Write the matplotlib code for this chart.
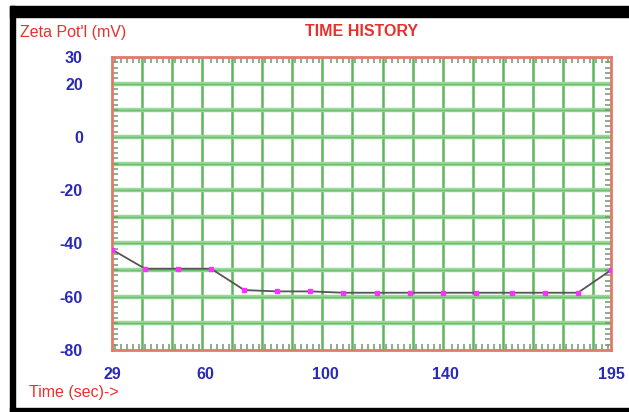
import matplotlib
matplotlib.use("Agg")
import matplotlib.pyplot as plt
from matplotlib.ticker import MultipleLocator, FixedLocator
from matplotlib.patches import Rectangle
import numpy as np

time_sec = [29, 40, 51, 62, 73, 84, 95, 106, 117, 128, 139, 150, 162, 173, 184, 195]
zeta_mv = [-42.3, -49.5, -49.5, -49.5, -57.5, -58, -58, -58.5, -58.5, -58.5, -58.5, -58.5, -58.5, -58.5, -58.5, -50]
x_ticks = [29, 60, 100, 140, 195]
y_ticks = [30, 20, 0, -20, -40, -60, -80]
title = "TIME HISTORY"
y_title = "Zeta Pot'l (mV)"
x_title = "Time (sec)->"

plt.rcParams['font.family'] = ['Liberation Sans', 'DejaVu Sans']
plt.rcParams['axes.unicode_minus'] = False

W, H = 629, 412
fig = plt.figure(figsize=(W / 100, H / 100), dpi=100)
fig.patch.set_facecolor('white')

# black frame (top, left, bottom)
def px_rect(x0, y0, x1, y1):
    return Rectangle((x0 / W, 1 - y1 / H), (x1 - x0) / W, (y1 - y0) / H,
                     transform=fig.transFigure, color='black', zorder=0)
fig.patches.append(px_rect(10, 6, 629, 17))
fig.patches.append(px_rect(10, 6, 15, 412))
fig.patches.append(px_rect(10, 408, 629, 412))

left, right, top, bottom = 112, 611, 57, 350
ax = fig.add_axes([left / W, 1 - bottom / H, (right - left) / W, (bottom - top) / H])
ax.set_xlim(29, 195)
ax.set_ylim(-80, 30)

# grid
for gx in np.arange(39, 195, 10):
    ax.axvline(gx, color='#5cb65c', lw=1.8, zorder=1)
for gy in np.arange(-70, 30, 10):
    ax.axhline(gy, color='#9ad79a', lw=3.2, zorder=1)
    ax.axhline(gy, color='#6cc06c', lw=1.0, zorder=1)

ax.plot(time_sec, zeta_mv, color='#555555', lw=1.3, zorder=3)
ax.plot(time_sec, zeta_mv, linestyle='none', marker='s', ms=3.5,
        color='#ff30ff', mec='#ff30ff', zorder=4)

for s in ax.spines.values():
    s.set_color('#e07a6a')
    s.set_linewidth(2)

ax.xaxis.set_major_locator(FixedLocator(x_ticks))
ax.yaxis.set_major_locator(FixedLocator(y_ticks))
ax.xaxis.set_minor_locator(MultipleLocator(2))
ax.yaxis.set_minor_locator(MultipleLocator(2))
ax.tick_params(which='major', length=0, labelsize=11.5, labelcolor='#2a2ab4', width=0)
ax.tick_params(axis='x', which='major', pad=12)
ax.tick_params(axis='y', which='major', pad=21)
ax.tick_params(which='minor', direction='in', length=4.5, width=1.1, color='#6f986f',
               top=True, right=True, bottom=True, left=True)
for lbl in ax.get_xticklabels() + ax.get_yticklabels():
    lbl.set_fontweight('bold')

fig.text(20 / W, 1 - 33 / H, y_title, color='#e8302e', fontsize=11.5, ha='left', va='center')
fig.text(362 / W, 1 - 32 / H, title, color='#e8302e', fontsize=11.5, fontweight='bold',
         ha='center', va='center')
fig.text(29 / W, 1 - 392 / H, x_title, color='#e8302e', fontsize=11.5, ha='left', va='center')

fig.savefig('out.png', dpi=100)
